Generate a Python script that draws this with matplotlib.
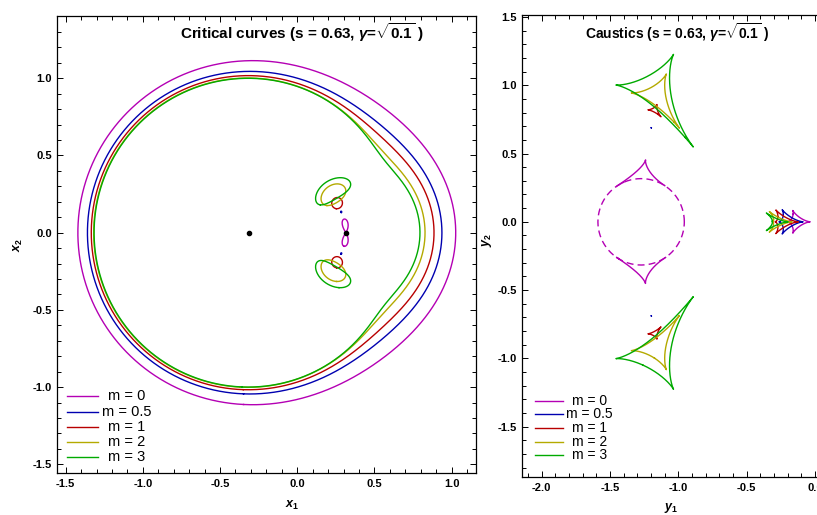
import numpy as np
import matplotlib
matplotlib.use("Agg")
import matplotlib.pyplot as plt
from matplotlib.ticker import MultipleLocator, FormatStrFormatter
import contourpy

plt.rcParams['font.family'] = ['Liberation Sans', 'DejaVu Sans']
plt.rcParams['mathtext.fontset'] = 'custom'
plt.rcParams['mathtext.rm'] = 'Liberation Sans:bold'
plt.rcParams['mathtext.it'] = 'Liberation Sans:italic:bold'
plt.rcParams['mathtext.bf'] = 'Liberation Sans:bold'

# lens parameters
s = 0.63
gamma = np.sqrt(0.1)
m_values = [0, 0.5, 1, 2, 3]
m_labels = ["m = 0", "m = 0.5", "m = 1", "m = 2", "m = 3"]
colors = ["#b400b4", "#0000b0", "#b80000", "#b4aa00", "#00aa00"]
lens_pos = [-s / 2, s / 2]


def lens_terms(m):
    # (x position, strength, power index): point-mass primary, power-law secondary
    return [(lens_pos[0], 1.0, 1.0), (lens_pos[1], gamma ** (m + 1), m)]


def jac_det(X, Y, m):
    a11 = np.ones_like(X)
    a22 = np.ones_like(X)
    a12 = np.zeros_like(X)
    for z, k, n in lens_terms(m):
        dx = X - z
        dy = Y
        r2 = dx * dx + dy * dy
        rp = r2 ** (-(n + 1) / 2)
        rq = (n + 1) * r2 ** (-(n + 3) / 2)
        a11 -= k * (rp - rq * dx * dx)
        a22 -= k * (rp - rq * dy * dy)
        a12 += k * rq * dx * dy
    return a11 * a22 - a12 * a12


def lens_map(x, y, m):
    bx = x.copy()
    by = y.copy()
    for z, k, n in lens_terms(m):
        dx = x - z
        dy = y
        r2 = dx * dx + dy * dy
        f = k * r2 ** (-(n + 1) / 2)
        bx -= f * dx
        by -= f * dy
    return bx, by


def zero_lines(x, y, m):
    X, Y = np.meshgrid(x, y)
    D = jac_det(X, Y, m)
    gen = contourpy.contour_generator(x, y, D)
    return gen.lines(0.0)


def split_jumps(bx, by, tol=0.04):
    # break a mapped curve where it jumps (points around a singular lens centre)
    step = np.hypot(np.diff(bx), np.diff(by))
    cuts = np.where(step > tol)[0] + 1
    return zip(np.split(bx, cuts), np.split(by, cuts))


# coarse grid everywhere, fine grid around the secondary
xc = np.arange(-1.7, 1.3, 0.0016) + 0.00037
yc = np.arange(-1.7, 1.5, 0.0016) + 0.00041
box = (0.0, 0.6, -0.45, 0.45)
xf = np.arange(box[0], box[1], 0.0004) + 0.00011
yf = np.arange(box[2], box[3], 0.0004) + 0.00013


def inside_box(line):
    return (line[:, 0].min() > box[0] + 0.01 and line[:, 0].max() < box[1] - 0.01
            and line[:, 1].min() > box[2] + 0.01 and line[:, 1].max() < box[3] - 0.01)


critical = {}
for m in m_values:
    lines = [l for l in zero_lines(xc, yc, m) if not inside_box(l)]
    lines += [l for l in zero_lines(xf, yf, m) if inside_box(l)]
    critical[m] = lines

fig = plt.figure(figsize=(8.17, 5.15), dpi=100)
W, H = 817, 515
axL = fig.add_axes([57.3 / W, (H - 473.3) / H, 418.4 / W, 457.3 / H])
axR = fig.add_axes([522.3 / W, (H - 477) / H, 306.3 / W, 462 / H])

for m, c in zip(m_values, colors):
    for l in critical[m]:
        axL.plot(l[:, 0], l[:, 1], color=c, lw=1.0)
        bx, by = lens_map(l[:, 0], l[:, 1], m)
        for px, py in split_jumps(bx, by):
            if len(px) > 1:
                axR.plot(px, py, color=c, lw=1.0)

# pseudo-caustic of the m = 0 secondary
t = np.linspace(0, 2 * np.pi, 400)
cx = lens_pos[1] - 1.0 / s
axR.plot(cx + gamma * np.cos(t), gamma * np.sin(t), color=colors[0], lw=1.0,
         ls=(0, (5, 3)))

axL.plot(lens_pos, [0, 0], 'o', color='black', ms=3)

axL.set_xlim(-1.554, 1.156)
axL.set_ylim(-1.558, 1.403)
axR.set_xlim(-2.142, 0.1)
axR.set_ylim(-1.868, 1.514)

for ax in (axL, axR):
    ax.xaxis.set_major_locator(MultipleLocator(0.5))
    ax.yaxis.set_major_locator(MultipleLocator(0.5))
    ax.xaxis.set_minor_locator(MultipleLocator(0.1))
    ax.yaxis.set_minor_locator(MultipleLocator(0.1))
    ax.xaxis.set_major_formatter(FormatStrFormatter('%.1f'))
    ax.yaxis.set_major_formatter(FormatStrFormatter('%.1f'))
    ax.tick_params(which='both', direction='in', top=True, right=True,
                   width=0.7, labelsize=8, pad=4)
    ax.tick_params(which='major', length=4.3)
    ax.tick_params(which='minor', length=2.6)
    for lab in ax.get_xticklabels() + ax.get_yticklabels():
        lab.set_fontweight('bold')
    for sp in ax.spines.values():
        sp.set_linewidth(0.9)

# axis labels
fig.text(292 / W, 1 - 505 / H, r"$x_{1}$", fontsize=9, ha='center', va='center')
fig.text(18 / W, 1 - 245 / H, r"$x_{2}$", fontsize=9, ha='center', va='center',
         rotation=90)
fig.text(670.7 / W, 1 - 508 / H, r"$y_{1}$", fontsize=9, ha='center', va='center')
fig.text(487 / W, 1 - 240 / H, r"$y_{2}$", fontsize=9, ha='center', va='center',
         rotation=90)

axL.text(0.585, 0.963, r"Critical curves (s = 0.63, $\gamma$=$\sqrt{0.1}$ )",
         transform=axL.transAxes, ha='center', va='center', fontsize=11,
         fontweight='bold')
axR.text(0.505, 0.961, r"Caustics (s = 0.63, $\gamma$=$\sqrt{0.1}$ )",
         transform=axR.transAxes, ha='center', va='center', fontsize=10,
         fontweight='bold')


def draw_legend(ax, x0, x1, xt, rows, size):
    for lab, c, yy in zip(m_labels, colors, rows):
        ax.plot([x0, x1], [yy, yy], color=c, lw=1.0, transform=ax.transAxes,
                clip_on=False)
        ax.text(xt, yy, lab, transform=ax.transAxes, ha='center', va='center',
                fontsize=size)


def px_to_axes(ax_box, px, py):
    left, right, top, bottom = ax_box
    return (px - left) / (right - left), (bottom - py) / (bottom - top)


boxL = (57.3, 475.7, 16.0, 473.3)
rowsL = [px_to_axes(boxL, 0, py)[1] for py in (396, 411.5, 427, 442, 457)]
draw_legend(axL, px_to_axes(boxL, 67, 0)[0], px_to_axes(boxL, 98, 0)[0],
            px_to_axes(boxL, 127, 0)[0], rowsL, 10.5)

boxR = (522.3, 828.6, 15.0, 477.0)
rowsR = [px_to_axes(boxR, 0, py)[1] for py in (400.7, 414.3, 427.9, 441.6, 455.2)]
draw_legend(axR, px_to_axes(boxR, 535, 0)[0], px_to_axes(boxR, 563, 0)[0],
            px_to_axes(boxR, 589.5, 0)[0], rowsR, 10)

fig.savefig("out.png", dpi=100)
